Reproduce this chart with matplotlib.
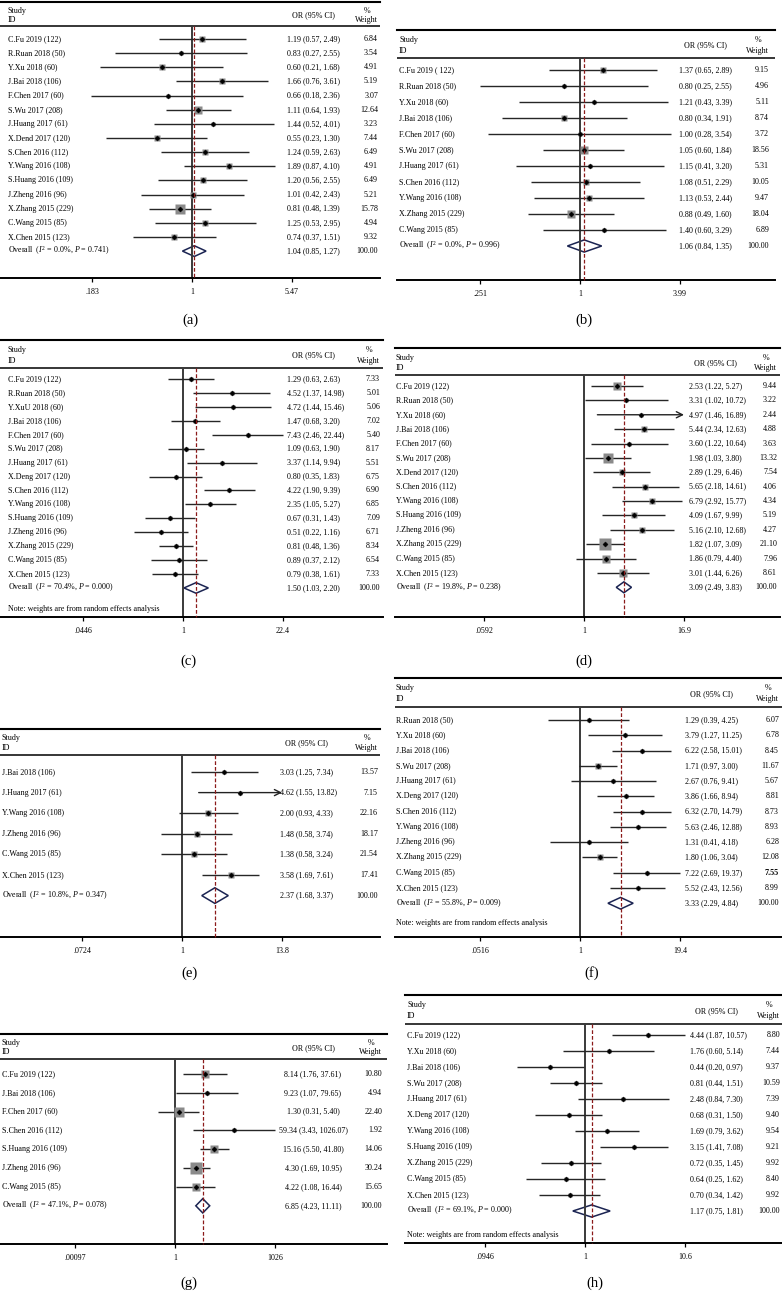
import numpy as np
import matplotlib
matplotlib.use("Agg")
import matplotlib.pyplot as plt
from matplotlib.ticker import NullLocator

plt.rcParams['font.family'] = ['Liberation Serif', 'DejaVu Serif']
plt.rcParams['mathtext.fontset'] = 'custom'
plt.rcParams['mathtext.rm'] = 'Liberation Serif'
plt.rcParams['mathtext.it'] = 'Liberation Serif:italic'

# ---------------- data ----------------
# (a)
a_studies = ["C.Fu 2019 (122)", "R.Ruan 2018 (50)", "Y.Xu 2018 (60)", "J.Bai 2018 (106)", "F.Chen 2017 (60)",
             "S.Wu 2017 (208)", "J.Huang 2017 (61)", "X.Dend 2017 (120)", "S.Chen 2016 (112)", "Y.Wang 2016 (108)",
             "S.Huang 2016 (109)", "J.Zheng 2016 (96)", "X.Zhang 2015 (229)", "C.Wang 2015 (85)", "X.Chen 2015 (123)"]
a_or = [1.19, 0.83, 0.60, 1.66, 0.66, 1.11, 1.44, 0.55, 1.24, 1.89, 1.20, 1.01, 0.81, 1.25, 0.74]
a_lo = [0.57, 0.27, 0.21, 0.76, 0.18, 0.64, 0.52, 0.23, 0.59, 0.87, 0.56, 0.42, 0.48, 0.53, 0.37]
a_hi = [2.49, 2.55, 1.68, 3.61, 2.36, 1.93, 4.01, 1.30, 2.63, 4.10, 2.55, 2.43, 1.39, 2.95, 1.51]
a_w = [6.84, 3.54, 4.91, 5.19, 3.07, 12.64, 3.23, 7.44, 6.49, 4.91, 6.49, 5.21, 15.78, 4.94, 9.32]
a_overall = [1.04, 0.85, 1.27]
a_het = ["0.0%", "0.741"]
a_ticks = [0.183, 1, 5.47]
a_ticklabels = [".183", "1", "5.47"]

# (b)
b_studies = ["C.Fu 2019 ( 122)", "R.Ruan 2018 (50)", "Y.Xu 2018 (60)", "J.Bai 2018 (106)", "F.Chen 2017 (60)",
             "S.Wu 2017 (208)", "J.Huang 2017 (61)", "S.Chen 2016 (112)", "Y.Wang 2016 (108)",
             "X.Zhang 2015 (229)", "C.Wang 2015 (85)"]
b_or = [1.37, 0.80, 1.21, 0.80, 1.00, 1.05, 1.15, 1.08, 1.13, 0.88, 1.40]
b_lo = [0.65, 0.25, 0.43, 0.34, 0.28, 0.60, 0.41, 0.51, 0.53, 0.49, 0.60]
b_hi = [2.89, 2.55, 3.39, 1.91, 3.54, 1.84, 3.20, 2.29, 2.44, 1.60, 3.29]
b_w = [9.15, 4.96, 5.11, 8.74, 3.72, 18.56, 5.31, 10.05, 9.47, 18.04, 6.89]
b_overall = [1.06, 0.84, 1.35]
b_het = ["0.0%", "0.996"]
b_ticks = [0.251, 1, 3.99]
b_ticklabels = [".251", "1", "3.99"]

# (c)
c_studies = ["C.Fu 2019 (122)", "R.Ruan 2018 (50)", "Y.XuU 2018 (60)", "J.Bai 2018 (106)", "F.Chen 2017 (60)",
             "S.Wu 2017 (208)", "J.Huang 2017 (61)", "X.Deng 2017 (120)", "S.Chen 2016 (112)", "Y.Wang 2016 (108)",
             "S.Huang 2016 (109)", "J.Zheng 2016 (96)", "X.Zhang 2015 (229)", "C.Wang 2015 (85)", "X.Chen 2015 (123)"]
c_or = [1.29, 4.52, 4.72, 1.47, 7.43, 1.09, 3.37, 0.80, 4.22, 2.35, 0.67, 0.51, 0.81, 0.89, 0.79]
c_lo = [0.63, 1.37, 1.44, 0.68, 2.46, 0.63, 1.14, 0.35, 1.90, 1.05, 0.31, 0.22, 0.48, 0.37, 0.38]
c_hi = [2.63, 14.98, 15.46, 3.20, 22.44, 1.90, 9.94, 1.83, 9.39, 5.27, 1.43, 1.16, 1.36, 2.12, 1.61]
c_w = [7.33, 5.01, 5.06, 7.02, 5.40, 8.17, 5.51, 6.75, 6.90, 6.85, 7.09, 6.71, 8.34, 6.54, 7.33]
c_overall = [1.50, 1.03, 2.20]
c_het = ["70.4%", "0.000"]
c_ticks = [0.0446, 1, 22.4]
c_ticklabels = [".0446", "1", "22.4"]

# (d)
d_studies = ["C.Fu 2019 (122)", "R.Ruan 2018 (50)", "Y.Xu 2018 (60)", "J.Bai 2018 (106)", "F.Chen 2017 (60)",
             "S.Wu 2017 (208)", "X.Dend 2017 (120)", "S.Chen 2016 (112)", "Y.Wang 2016 (108)",
             "S.Huang 2016 (109)", "J.Zheng 2016 (96)", "X.Zhang 2015 (229)", "C.Wang 2015 (85)", "X.Chen 2015 (123)"]
d_or = [2.53, 3.31, 4.97, 5.44, 3.60, 1.98, 2.89, 5.65, 6.79, 4.09, 5.16, 1.82, 1.86, 3.01]
d_lo = [1.22, 1.02, 1.46, 2.34, 1.22, 1.03, 1.29, 2.18, 2.92, 1.67, 2.10, 1.07, 0.79, 1.44]
d_hi = [5.27, 10.72, 16.89, 12.63, 10.64, 3.80, 6.46, 14.61, 15.77, 9.99, 12.68, 3.09, 4.40, 6.26]
d_w = [9.44, 3.22, 2.44, 4.88, 3.63, 13.32, 7.54, 4.06, 4.34, 5.19, 4.27, 21.10, 7.96, 8.61]
d_overall = [3.09, 2.49, 3.83]
d_het = ["19.8%", "0.238"]
d_ticks = [0.0592, 1, 16.9]
d_ticklabels = [".0592", "1", "16.9"]
d_arrows = ["Y.Xu 2018 (60)"]

# (e)
e_studies = ["J.Bai 2018 (106)", "J.Huang 2017 (61)", "Y.Wang 2016 (108)", "J.Zheng 2016 (96)",
             "C.Wang 2015 (85)", "X.Chen 2015 (123)"]
e_or = [3.03, 4.62, 2.00, 1.48, 1.38, 3.58]
e_lo = [1.25, 1.55, 0.93, 0.58, 0.58, 1.69]
e_hi = [7.34, 13.82, 4.33, 3.74, 3.24, 7.61]
e_w = [13.57, 7.15, 22.16, 18.17, 21.54, 17.41]
e_overall = [2.37, 1.68, 3.37]
e_het = ["10.8%", "0.347"]
e_ticks = [0.0724, 1, 13.8]
e_ticklabels = [".0724", "1", "13.8"]
e_arrows = ["J.Huang 2017 (61)"]

# (f)
f_studies = ["R.Ruan 2018 (50)", "Y.Xu 2018 (60)", "J.Bai 2018 (106)", "S.Wu 2017 (208)", "J.Huang 2017 (61)",
             "X.Deng 2017 (120)", "S.Chen 2016 (112)", "Y.Wang 2016 (108)", "J.Zheng 2016 (96)",
             "X.Zhang 2015 (229)", "C.Wang 2015 (85)", "X.Chen 2015 (123)"]
f_or = [1.29, 3.79, 6.22, 1.71, 2.67, 3.86, 6.32, 5.63, 1.31, 1.80, 7.22, 5.52]
f_lo = [0.39, 1.27, 2.58, 0.97, 0.76, 1.66, 2.70, 2.46, 0.41, 1.06, 2.69, 2.43]
f_hi = [4.25, 11.25, 15.01, 3.00, 9.41, 8.94, 14.79, 12.88, 4.18, 3.04, 19.37, 12.56]
f_w = [6.07, 6.78, 8.45, 11.67, 5.67, 8.81, 8.73, 8.93, 6.28, 12.08, 7.55, 8.99]
f_overall = [3.33, 2.29, 4.84]
f_het = ["55.8%", "0.009"]
f_ticks = [0.0516, 1, 19.4]
f_ticklabels = [".0516", "1", "19.4"]
f_bold = ["C.Wang 2015 (85)"]

# (g)
g_studies = ["C.Fu 2019 (122)", "J.Bai 2018 (106)", "F.Chen 2017 (60)", "S.Chen 2016 (112)",
             "S.Huang 2016 (109)", "J.Zheng 2016 (96)", "C.Wang 2015 (85)"]
g_or = [8.14, 9.23, 1.30, 59.34, 15.16, 4.30, 4.22]
g_lo = [1.76, 1.07, 0.31, 3.43, 5.50, 1.69, 1.08]
g_hi = [37.61, 79.65, 5.40, 1026.07, 41.80, 10.95, 16.44]
g_w = [10.80, 4.94, 22.40, 1.92, 14.06, 30.24, 15.65]
g_overall = [6.85, 4.23, 11.11]
g_het = ["47.1%", "0.078"]
g_ticks = [0.00097, 1, 1026]
g_ticklabels = [".00097", "1", "1026"]

# (h)
h_studies = ["C.Fu 2019 (122)", "Y.Xu 2018 (60)", "J.Bai 2018 (106)", "S.Wu 2017 (208)", "J.Huang 2017 (61)",
             "X.Deng 2017 (120)", "Y.Wang 2016 (108)", "S.Huang 2016 (109)", "X.Zhang 2015 (229)",
             "C.Wang 2015 (85)", "X.Chen 2015 (123)"]
h_or = [4.44, 1.76, 0.44, 0.81, 2.48, 0.68, 1.69, 3.15, 0.72, 0.64, 0.70]
h_lo = [1.87, 0.60, 0.20, 0.44, 0.84, 0.31, 0.79, 1.41, 0.35, 0.25, 0.34]
h_hi = [10.57, 5.14, 0.97, 1.51, 7.30, 1.50, 3.62, 7.08, 1.45, 1.62, 1.42]
h_w = [8.80, 7.44, 9.37, 10.59, 7.39, 9.40, 9.54, 9.21, 9.92, 8.40, 9.92]
h_overall = [1.17, 0.75, 1.81]
h_het = ["69.1%", "0.000"]
h_ticks = [0.0946, 1, 10.6]
h_ticklabels = [".0946", "1", "10.6"]

note_text = "Note: weights are from random effects analysis"

panels = [
    dict(tag="(a)", studies=a_studies, est=a_or, lo=a_lo, hi=a_hi, w=a_w, overall=a_overall, het=a_het,
         ticks=a_ticks, ticklabels=a_ticklabels),
    dict(tag="(b)", studies=b_studies, est=b_or, lo=b_lo, hi=b_hi, w=b_w, overall=b_overall, het=b_het,
         ticks=b_ticks, ticklabels=b_ticklabels),
    dict(tag="(c)", studies=c_studies, est=c_or, lo=c_lo, hi=c_hi, w=c_w, overall=c_overall, het=c_het,
         ticks=c_ticks, ticklabels=c_ticklabels, note=True),
    dict(tag="(d)", studies=d_studies, est=d_or, lo=d_lo, hi=d_hi, w=d_w, overall=d_overall, het=d_het,
         ticks=d_ticks, ticklabels=d_ticklabels, arrows=d_arrows),
    dict(tag="(e)", studies=e_studies, est=e_or, lo=e_lo, hi=e_hi, w=e_w, overall=e_overall, het=e_het,
         ticks=e_ticks, ticklabels=e_ticklabels, arrows=e_arrows),
    dict(tag="(f)", studies=f_studies, est=f_or, lo=f_lo, hi=f_hi, w=f_w, overall=f_overall, het=f_het,
         ticks=f_ticks, ticklabels=f_ticklabels, note=True, bold=f_bold),
    dict(tag="(g)", studies=g_studies, est=g_or, lo=g_lo, hi=g_hi, w=g_w, overall=g_overall, het=g_het,
         ticks=g_ticks, ticklabels=g_ticklabels),
    dict(tag="(h)", studies=h_studies, est=h_or, lo=h_lo, hi=h_hi, w=h_w, overall=h_overall, het=h_het,
         ticks=h_ticks, ticklabels=h_ticklabels, note=True),
]

# ---------------- layout (pixels) ----------------
layouts = [
    dict(L=0, R=380, top=2, hdr=26, axis=278, r0=39, d=14.14, p1=192, tx=8, orx=287, orc=False, wx=378,
         k=2.27, lab=(190, 320)),
    dict(L=397, R=775, top=30, hdr=58, axis=280, r0=70, d=16.0, p1=580, tx=399, orx=679, orc=False, wx=769,
         k=1.8, lab=(584, 320)),
    dict(L=0, R=383, top=340, hdr=368, axis=617, r0=379, d=13.93, p1=183, tx=8, orx=287, orc=False, wx=380,
         k=1.7, lab=(188, 661), note=609),
    dict(L=395, R=780, top=348, hdr=375, axis=617, r0=386, d=14.38, p1=584, tx=396, orx=689, orc=False, wx=777,
         k=2.5, lab=(584, 661)),
    dict(L=0, R=380, top=729, hdr=755, axis=937, r0=772, d=20.6, p1=182, tx=2, orx=280, orc=False, wx=378,
         k=1.3, lab=(190, 973)),
    dict(L=395, R=782, top=678, hdr=707, axis=937, r0=720, d=15.27, p1=580, tx=396, orx=685, orc=False, wx=779,
         k=1.65, lab=(592, 973), note=923),
    dict(L=0, R=387, top=1034, hdr=1059, axis=1244, r0=1074, d=18.83, p1=175, tx=2, orx=313, orc=True, wx=382,
         k=2.2, lab=(189, 1283)),
    dict(L=405, R=782, top=995, hdr=1024, axis=1243, r0=1035, d=16.0, p1=585, tx=407, orx=690, orc=False, wx=780,
         k=1.5, lab=(595, 1283), note=1235),
]

W, H = 782, 1291
FS = 5.8
fig = plt.figure(figsize=(W / 100, H / 100), dpi=100)


def draw(p, lay):
    L, R, top, hdr, axis = lay['L'], lay['R'], lay['top'], lay['hdr'], lay['axis']
    r0, dy = lay['r0'], lay['d']
    ax = fig.add_axes([L / W, 1 - axis / H, (R - L) / W, (axis - top) / H])

    def row(py):
        return (py - r0) / dy

    def fx(px):
        return (px - L) / (R - L)

    T = p['ticks'][2]
    s = 100.0 / np.log10(T)
    p1 = lay['p1']
    ax.set_xscale('log')
    ax.set_xlim(10 ** ((L - p1) / s), 10 ** ((R - p1) / s))
    ax.set_ylim(row(axis), row(top))
    tr = ax.get_yaxis_transform()

    for sp in ('left', 'right'):
        ax.spines[sp].set_visible(False)
    ax.spines['top'].set_linewidth(1.5)
    ax.spines['bottom'].set_linewidth(1.4)
    ax.set_xticks(p['ticks'])
    ax.set_xticklabels(p['ticklabels'])
    ax.xaxis.set_minor_locator(NullLocator())
    ax.tick_params(axis='x', direction='out', length=3, width=0.9, labelsize=FS, pad=4.5)
    ax.tick_params(axis='y', left=False, labelleft=False)

    # header
    ax.axhline(row(hdr), color='black', lw=1.1)
    hs = row(top + (hdr - top) * 0.36)
    hi_ = row(top + (hdr - top) * 0.74)
    hm = row(top + (hdr - top) * 0.55)
    ax.text(fx(lay['tx']), hs, "Study", transform=tr, fontsize=FS, va='center', ha='left')
    ax.text(fx(lay['tx']), hi_, "ID", transform=tr, fontsize=FS, va='center', ha='left')
    orc = lay['orx'] if lay['orc'] else lay['orx'] + 26
    ax.text(fx(orc), hm, "OR (95% CI)", transform=tr, fontsize=FS, va='center', ha='center')
    ax.text(fx(lay['wx'] - 11), hs, "%", transform=tr, fontsize=FS, va='center', ha='center')
    ax.text(fx(lay['wx']), hi_, "Weight", transform=tr, fontsize=FS, va='center', ha='right')

    arrows = p.get('arrows', [])
    bold = p.get('bold', [])
    n = len(p['studies'])
    ha_or = 'center' if lay['orc'] else 'left'
    for i, name in enumerate(p['studies']):
        est, lo, hi, w = p['est'][i], p['lo'][i], p['hi'][i], p['w'][i]
        if name in arrows:
            ax.annotate('', xy=(hi, i), xytext=(lo, i),
                        arrowprops=dict(arrowstyle='->', lw=1.0, color='#222222',
                                        mutation_scale=11, shrinkA=0, shrinkB=0), zorder=3)
        else:
            ax.plot([lo, hi], [i, i], color='#262626', lw=1.0, solid_capstyle='butt', zorder=3)
        side_pt = lay['k'] * np.sqrt(w) * 0.72
        ax.plot(est, i, marker='s', ms=side_pt, color='#8a8a8a', mec='none', zorder=4)
        ax.plot(est, i, marker='D', ms=2.6, color='black', mec='black', mew=0.3, zorder=5)
        ax.text(fx(lay['tx']), i, name, transform=tr, fontsize=FS, va='center', ha='left')
        ax.text(fx(lay['orx']), i, f"{est:.2f} ({lo:.2f}, {hi:.2f})", transform=tr, fontsize=FS,
                va='center', ha=ha_or)
        ax.text(fx(lay['wx']), i, f"{w:.2f}", transform=tr, fontsize=FS, va='center', ha='right',
                fontweight='bold' if name in bold else 'normal')

    # overall
    oe, ol, oh = p['overall']
    h = 0.38
    ax.fill([ol, oe, oh, oe], [n, n - h, n, n + h], facecolor='white', edgecolor='#1b2452', lw=1.1, zorder=2)
    ax.text(fx(lay['tx']), n, rf"Overall  ($I^2$ = {p['het'][0]}, $P$ = {p['het'][1]})", transform=tr,
            fontsize=FS, va='center', ha='left')
    ax.text(fx(lay['orx']), n, f"{oe:.2f} ({ol:.2f}, {oh:.2f})", transform=tr, fontsize=FS,
            va='center', ha=ha_or)
    ax.text(fx(lay['wx']), n, "100.00", transform=tr, fontsize=FS, va='center', ha='right')

    # reference lines
    ax.plot([1, 1], [row(hdr), row(axis)], color='#3a3a3a', lw=1.4, zorder=2.5, clip_on=False)
    ax.plot([oe, oe], [row(hdr), row(axis)], color='#8b1a1a', lw=0.9, ls=(0, (3, 1.6)), zorder=6,
            clip_on=False)

    if p.get('note'):
        ax.text(fx(lay['tx']), row(lay['note']), note_text, transform=tr, fontsize=FS, va='center', ha='left')

    cx, cy = lay['lab']
    fig.text(cx / W, 1 - cy / H, p['tag'], ha='center', va='center', fontsize=10.5)


for p, lay in zip(panels, layouts):
    draw(p, lay)

fig.savefig("out.png", dpi=100)
